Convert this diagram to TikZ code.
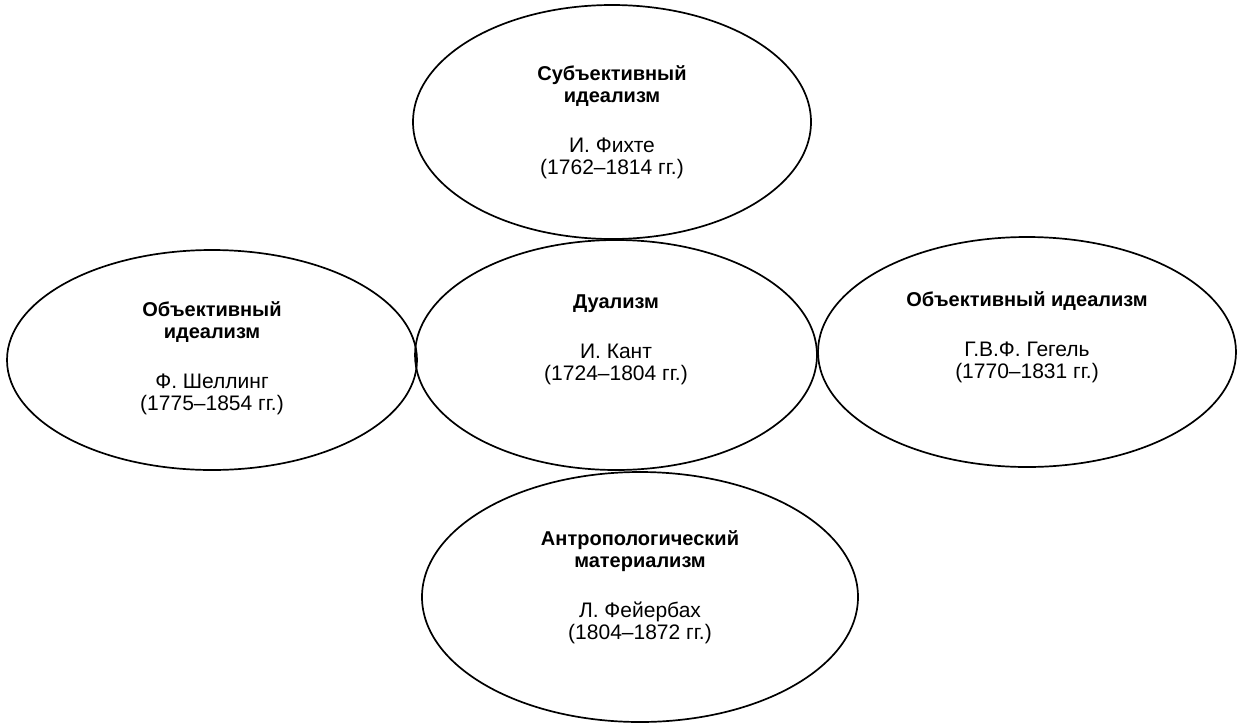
\documentclass[tikz,border=0pt]{standalone}
\usepackage{fontspec}
\setmainfont{Liberation Sans}
\usetikzlibrary{shapes.geometric}
\tikzset{
  oval/.style={draw=black, line width=1.7pt, ellipse, inner sep=0pt},
  txt/.style={align=center, font=\fontsize{21}{22}\selectfont, inner sep=0pt},
}
\newcommand{\ttl}[1]{{\fontsize{20}{22}\selectfont\bfseries #1}}
\begin{document}
\begin{tikzpicture}[x=1pt, y=-1pt]
\useasboundingbox (0,0) rectangle (1244,723);
\node[oval, minimum width=398pt, minimum height=234pt] (top) at (612,122) {};
\node[oval, minimum width=402pt, minimum height=230pt] (mid) at (616,355) {};
\node[oval, minimum width=410pt, minimum height=220pt] (left) at (212,360) {};
\node[oval, minimum width=418pt, minimum height=230pt] (right) at (1027,352) {};
\node[oval, minimum width=436pt, minimum height=250pt] (bot) at (640,597) {};

\node[txt] (ttop) at (612,122) {\ttl{Субъективный}\\\ttl{идеализм}\\[28pt]И. Фихте\\(1762–1814 гг.)};
\node[txt] (tmid) at (616,340) {\ttl{Дуализм}\\[28pt]И. Кант\\(1724–1804 гг.)};
\node[txt] (tleft) at (212,358) {\ttl{Объективный}\\\ttl{идеализм}\\[28pt]Ф. Шеллинг\\(1775–1854 гг.)};
\node[txt] (tright) at (1027,337) {\ttl{Объективный идеализм}\\[28pt]Г.В.Ф. Гегель\\(1770–1831 гг.)};
\node[txt] (tbot) at (640,587) {\ttl{Антропологический}\\\ttl{материализм}\\[28pt]Л. Фейербах\\(1804–1872 гг.)};
\end{tikzpicture}
\end{document}
